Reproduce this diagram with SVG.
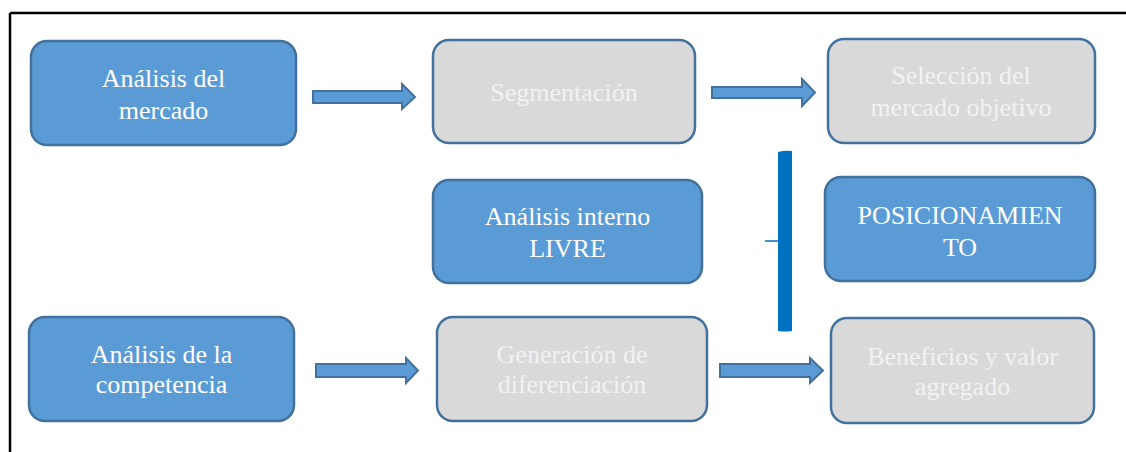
<svg xmlns="http://www.w3.org/2000/svg" width="1126" height="452" viewBox="0 0 1126 452">
<style>
.blue{fill:#5B9BD5;stroke:#41719C;stroke-width:2.5}
.gray{fill:#D9D9D9;stroke:#41719C;stroke-width:2.5}
.arrow{fill:#5B9BD5;stroke:#41719C;stroke-width:2}
text{font-family:"Liberation Serif","Times New Roman",serif;font-size:26px;text-anchor:middle}
.tb{fill:#FFFFFF}
.tg{fill:#F2F2F2}
</style>
<rect x="0" y="0" width="1126" height="452" fill="#FFFFFF"/>
<g id="frame">
<line x1="10" y1="13" x2="1126" y2="13" stroke="#000" stroke-width="2.5"/>
<line x1="10" y1="13" x2="10" y2="452" stroke="#000" stroke-width="2.5"/>
</g>
<g id="n-mercado">
<rect class="blue" x="31" y="41" width="265" height="104" rx="16"/>
<text class="tb" x="163.5" y="87">Análisis del</text>
<text class="tb" x="163.5" y="119">mercado</text>
</g>
<g id="n-segmentacion">
<rect class="gray" x="433" y="40" width="262" height="103" rx="16"/>
<text class="tg" x="564" y="101">Segmentación</text>
</g>
<g id="n-seleccion">
<rect class="gray" x="828" y="39" width="267" height="104" rx="16"/>
<text class="tg" x="961" y="84">Selección del</text>
<text class="tg" x="961" y="116">mercado objetivo</text>
</g>
<g id="n-interno">
<rect class="blue" x="433" y="180" width="269" height="103" rx="16"/>
<text class="tb" x="567.5" y="225">Análisis interno</text>
<text class="tb" x="567.5" y="257">LIVRE</text>
</g>
<g id="n-posicionamiento">
<rect class="blue" x="825" y="177" width="270" height="104" rx="16"/>
<text class="tb" x="960" y="224">POSICIONAMIEN</text>
<text class="tb" x="960" y="256">TO</text>
</g>
<g id="n-competencia">
<rect class="blue" x="29" y="317" width="265" height="104" rx="16"/>
<text class="tb" x="161.5" y="363">Análisis de la</text>
<text class="tb" x="161.5" y="393">competencia</text>
</g>
<g id="n-generacion">
<rect class="gray" x="437" y="317" width="270" height="104" rx="16"/>
<text class="tg" x="572" y="363">Generación de</text>
<text class="tg" x="572" y="393">diferenciación</text>
</g>
<g id="n-beneficios">
<rect class="gray" x="831" y="318" width="263" height="105" rx="16"/>
<text class="tg" x="962.5" y="365">Beneficios y valor</text>
<text class="tg" x="962.5" y="395">agregado</text>
</g>
<g id="connectors">
<polygon class="arrow" points="313,91 402,91 402,84 415,97 402,109 402,103 313,103"/>
<polygon class="arrow" points="712,87 802,87 802,79 815,92.5 802,106 802,98 712,98"/>
<polygon class="arrow" points="316,364 406,364 406,358 418,370.5 406,383 406,377 316,377"/>
<polygon class="arrow" points="720,364 810,364 810,358 823,370.5 810,383 810,377 720,377"/>
<path d="M778,152 Q785,150 792,151 L792,331 Q785,332 778,331 Z" fill="#0070C0"/>
<line x1="765" y1="241" x2="778" y2="241" stroke="#0070C0" stroke-width="1.5"/>
</g>
</svg>
